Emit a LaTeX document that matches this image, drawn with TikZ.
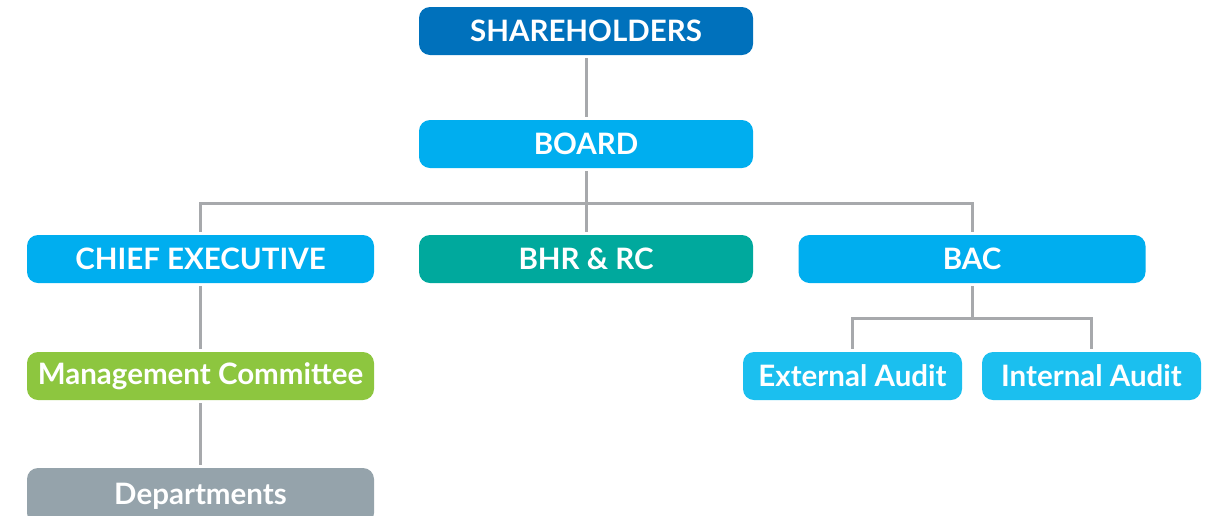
\documentclass[tikz,border=0pt]{standalone}
\usepackage{fontspec}
\setmainfont{Lato}
\definecolor{cdark}{HTML}{0071BC}
\definecolor{cblue}{HTML}{00AEEF}
\definecolor{clight}{HTML}{1BBFEF}
\definecolor{cteal}{HTML}{00A99D}
\definecolor{cgreen}{HTML}{8DC63F}
\definecolor{cgray}{HTML}{95A3AB}
\definecolor{cline}{HTML}{A7A9AC}
\begin{document}
\begin{tikzpicture}[x=1pt,y=-1pt,
  box/.style={rounded corners=11pt, draw=none, text=white, inner sep=0pt,
    font=\fontsize{29.5}{32}\selectfont\bfseries, anchor=center},
  wide/.style={box, minimum width=334pt, minimum height=48pt},
  cew/.style={box, minimum width=347pt, minimum height=48pt},
  aud/.style={box, minimum width=219pt, minimum height=48pt},
  conn/.style={draw=cline, line width=3pt, shorten <=3pt, shorten >=3pt}]
\useasboundingbox (0,0) rectangle (1217,515);
\node[wide, fill=cdark] (sh) at (586,31) {SHAREHOLDERS};
\node[wide, fill=cblue] (board) at (586,144) {BOARD};
\node[cew, fill=cblue] (ce) at (200.5,259) {CHIEF EXECUTIVE};
\node[wide, fill=cteal] (bhr) at (586,259) {BHR \& RC};
\node[cew, fill=cblue] (bac) at (972,259) {BAC};
\node[cew, fill=cgreen] (mc) at (200.5,376) {Management Committee};
\node[cew, fill=cgray, minimum height=56pt] (dep) at (200.5,496) {\raisebox{4pt}{Departments}};
\node[aud, fill=clight] (ext) at (852.5,376) {External Audit};
\node[aud, fill=clight] (int) at (1091.5,376) {Internal Audit};
\coordinate (bus) at (586,203);
\coordinate (abus) at (972,318);
\draw[conn] (sh) -- (board);
\draw[conn] (board) -- (bhr);
\draw[conn, shorten <=0pt] (bus) -| (ce.north);
\draw[conn, shorten <=0pt] (bus) -| (bac.north);
\draw[conn] (ce) -- (mc);
\draw[conn] (mc.south) -- (dep.north);
\draw[conn, shorten >=0pt] (bac) -- (abus);
\draw[conn, shorten <=0pt] (abus) -| (ext.north);
\draw[conn, shorten <=0pt] (abus) -| (int.north);
\end{tikzpicture}
\end{document}
